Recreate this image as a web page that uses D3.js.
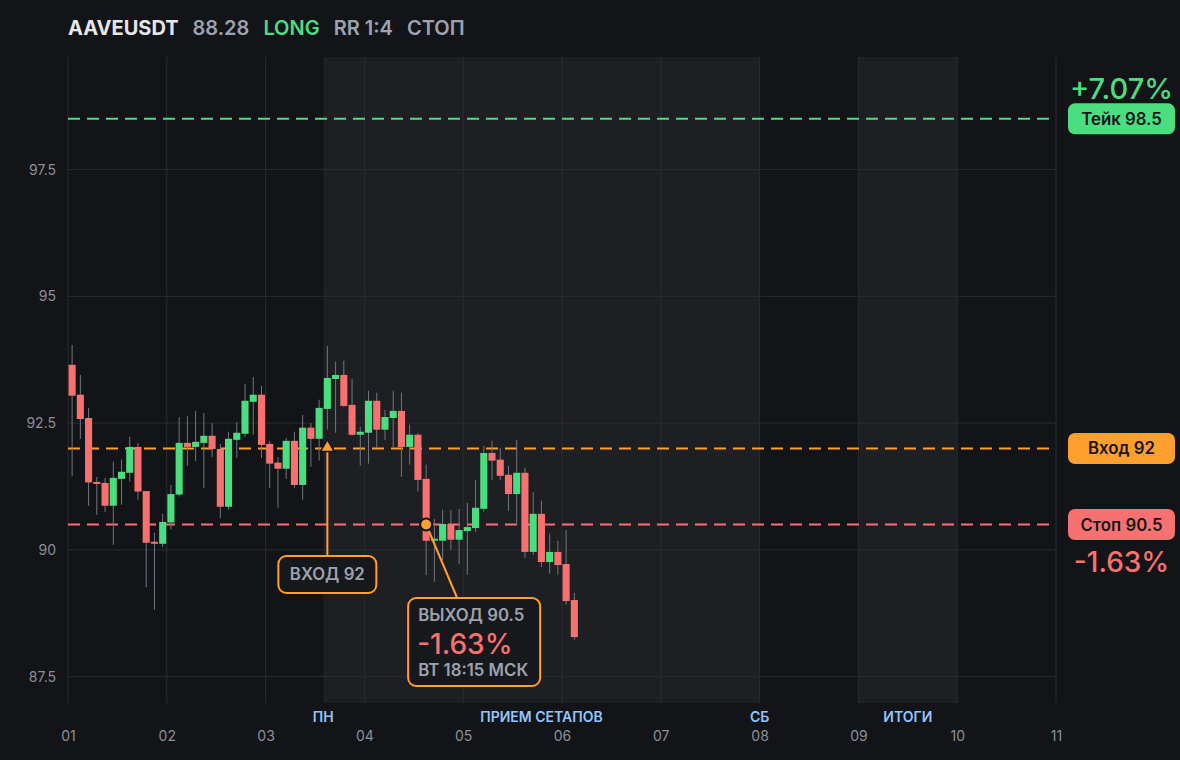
<!DOCTYPE html>
<html>
<head>
<meta charset="utf-8">
<script src="https://cdn.jsdelivr.net/npm/d3@7"></script>
<style>
  body { margin: 0; background: #131418; }
  svg { display: block; font-family: Inter, "Noto Sans", sans-serif; }
</style>
</head>
<body>
<div class="chart"></div>
<script>
// 2h candles, index 0 = day 01 00:00
var opens = [93.65, 93.06, 92.60, 91.34, 91.32, 90.87, 91.40, 91.52, 92.03, 91.16,
  90.16, 90.12, 90.54, 91.09, 92.11, 92.03, 92.11, 92.25, 91.99, 90.85,
  92.17, 92.29, 92.92, 93.06, 92.09, 91.72, 91.60, 92.15, 91.28, 92.41,
  92.19, 92.78, 93.37, 93.45, 92.86, 92.27, 92.31, 92.94, 92.37, 92.60,
  92.74, 92.03, 92.27, 91.40, 90.18, 90.18, 90.51, 90.20, 90.37, 90.43,
  90.81, 91.91, 91.78, 91.48, 91.10, 91.52, 89.96, 90.71, 89.76, 89.96,
  89.72, 89.01];
var closes = [93.04, 92.58, 91.33, 91.30, 90.87, 91.42, 91.54, 92.03, 91.15, 90.14,
  90.12, 90.55, 91.10, 92.11, 92.03, 92.13, 92.25, 91.99, 90.85, 92.19,
  92.31, 92.94, 93.06, 92.07, 91.70, 91.60, 92.15, 91.28, 92.41, 92.19,
  92.80, 93.39, 93.45, 92.84, 92.27, 92.33, 92.94, 92.37, 92.62, 92.74,
  92.03, 92.27, 91.38, 90.18, 90.22, 90.51, 90.20, 90.39, 90.45, 90.83,
  91.91, 91.76, 91.46, 91.10, 91.52, 89.96, 90.71, 89.76, 89.96, 89.70,
  88.99, 88.28];
var highs = [94.04, 93.45, 92.80, 91.44, 91.42, 91.74, 91.78, 92.23, 92.11, 91.16,
  90.34, 90.71, 91.28, 92.62, 92.64, 92.74, 92.70, 92.50, 92.09, 92.33,
  92.52, 93.27, 93.41, 93.23, 92.15, 91.83, 92.21, 92.33, 92.66, 92.50,
  92.96, 94.02, 93.71, 93.73, 93.37, 92.43, 93.14, 93.10, 92.76, 93.14,
  93.10, 92.47, 92.30, 91.68, 90.61, 90.79, 90.79, 90.81, 90.93, 91.38,
  92.05, 92.15, 92.01, 91.66, 92.17, 91.62, 91.14, 90.97, 90.32, 90.18,
  90.39, 89.15];
var lows = [91.45, 92.19, 90.87, 90.69, 90.75, 90.10, 90.89, 91.35, 90.99, 89.26,
  88.82, 90.05, 90.40, 91.05, 91.66, 91.75, 91.22, 91.83, 90.63, 90.79,
  91.81, 92.23, 92.27, 91.81, 91.22, 90.83, 91.40, 91.22, 90.99, 91.64,
  91.76, 92.37, 92.31, 92.82, 92.25, 91.66, 91.70, 92.01, 92.17, 92.03,
  91.44, 91.68, 91.15, 89.50, 89.37, 89.80, 90.00, 89.72, 89.51, 90.35,
  90.75, 91.38, 91.38, 90.77, 90.49, 89.84, 89.90, 89.66, 89.53, 89.51,
  88.92, 88.22];

var candleHours = 2;
var dayTicks = ["01", "02", "03", "04", "05", "06", "07", "08", "09", "10", "11"];
var priceTicks = [87.5, 90, 92.5, 95, 97.5];

// trade levels
var takeLevel = 98.5, entryLevel = 92, stopLevel = 90.5;
var entryCandle = 31, exitCandle = 43;

// background zones in hours from day 01
var zones = [
  { from: 62, to: 168, labels: [["ПН", 62], ["ПРИЕМ СЕТАПОВ", 115], ["СБ", 168]] },
  { from: 192, to: 216, labels: [["ИТОГИ", 204]] }
];

var svgWidth = 1180;
var svgHeight = 760;
var margin = { top: 57, right: 124, bottom: 57, left: 68 };
var width = svgWidth - margin.left - margin.right;
var height = svgHeight - margin.top - margin.bottom;

var green = "#4ade80", red = "#f87171", orange = "#ff9f2e", gray = "#9ca3af";

var svg = d3.select(".chart")
  .append("svg")
  .attr("width", svgWidth)
  .attr("height", svgHeight);

svg.append("rect").attr("width", svgWidth).attr("height", svgHeight).attr("fill", "#131418");

var chartGroup = svg.append("g")
  .attr("transform", `translate(${margin.left}, ${margin.top})`);

var candles = opens.map(function (o, i) {
  return { i: i, open: o, close: closes[i], high: highs[i], low: lows[i] };
});

var xScale = d3.scaleLinear().domain([0, 240]).range([0, width]);
var yScale = d3.scaleLinear().domain([86.98, 99.72]).range([height, 0]);
var candleW = (xScale(candleHours) - xScale(0)) * 0.86;
var cx = d => xScale(d.i * candleHours + candleHours / 2);

// zones
zones.forEach(function (z) {
  chartGroup.append("rect")
    .attr("x", xScale(z.from))
    .attr("y", 0)
    .attr("width", xScale(z.to) - xScale(z.from))
    .attr("height", height)
    .attr("fill", "#1e1f23");
  z.labels.forEach(function (l) {
    chartGroup.append("text")
      .attr("x", xScale(l[1]))
      .attr("y", height + 19)
      .attr("text-anchor", "middle")
      .attr("fill", "#93c5fd")
      .attr("font-size", "14px")
      .attr("font-weight", 600)
      .text(l[0]);
  });
});

// grid
chartGroup.append("g")
  .selectAll("line.vgrid")
  .data(dayTicks)
  .enter()
  .append("line")
  .attr("x1", (d, i) => xScale(i * 24))
  .attr("x2", (d, i) => xScale(i * 24))
  .attr("y1", 0)
  .attr("y2", height)
  .attr("stroke", "#2a2b30")
  .attr("stroke-width", 1);

chartGroup.append("g")
  .selectAll("line.hgrid")
  .data(priceTicks)
  .enter()
  .append("line")
  .attr("x1", 0)
  .attr("x2", width)
  .attr("y1", d => yScale(d))
  .attr("y2", d => yScale(d))
  .attr("stroke", "#2a2b30")
  .attr("stroke-width", 1);

// axes
var bottomAxis = d3.axisBottom(xScale)
  .tickValues(dayTicks.map((d, i) => i * 24))
  .tickFormat((d, i) => dayTicks[i])
  .tickSize(0)
  .tickPadding(28);
var leftAxis = d3.axisLeft(yScale)
  .tickValues(priceTicks)
  .tickFormat(d3.format("~g"))
  .tickSize(0)
  .tickPadding(12);

var xAxisG = chartGroup.append("g")
  .attr("transform", `translate(0, ${height})`)
  .call(bottomAxis);
var yAxisG = chartGroup.append("g").call(leftAxis);
[xAxisG, yAxisG].forEach(function (g) {
  g.select(".domain").remove();
  g.selectAll("text")
    .attr("fill", "#8b8f98")
    .attr("font-size", "14px")
    .attr("font-family", "Inter, sans-serif");
});

// level lines
[[takeLevel, green], [entryLevel, orange], [stopLevel, red]].forEach(function (l) {
  chartGroup.append("line")
    .attr("x1", 0)
    .attr("x2", width)
    .attr("y1", yScale(l[0]))
    .attr("y2", yScale(l[0]))
    .attr("stroke", l[1])
    .attr("stroke-width", 2)
    .attr("stroke-dasharray", "12,7");
});

// candles
var candleG = chartGroup.append("g").selectAll("g").data(candles).enter().append("g");

candleG.append("line")
  .attr("x1", cx)
  .attr("x2", cx)
  .attr("y1", d => yScale(d.high))
  .attr("y2", d => yScale(d.low))
  .attr("stroke", "#72767f")
  .attr("stroke-width", 1);

candleG.append("rect")
  .attr("x", d => cx(d) - candleW / 2)
  .attr("y", d => yScale(Math.max(d.open, d.close)))
  .attr("width", candleW)
  .attr("height", d => Math.max(2, Math.abs(yScale(d.open) - yScale(d.close))))
  .attr("fill", d => d.close >= d.open ? green : red);

// entry marker + callout
var ex = cx(candles[entryCandle]), ey = yScale(entryLevel);
chartGroup.append("line")
  .attr("x1", ex).attr("x2", ex)
  .attr("y1", ey).attr("y2", 499)
  .attr("stroke", orange).attr("stroke-width", 2);
chartGroup.append("path")
  .attr("d", d3.symbol().type(d3.symbolTriangle).size(80)())
  .attr("transform", `translate(${ex}, ${ey - 1})`)
  .attr("fill", orange)
  .attr("stroke", "#131418")
  .attr("stroke-width", 1.5);

chartGroup.append("rect")
  .attr("x", ex - 49).attr("y", 499)
  .attr("width", 98).attr("height", 37)
  .attr("rx", 8)
  .attr("fill", "#17181c")
  .attr("stroke", orange).attr("stroke-width", 2);
chartGroup.append("text")
  .attr("x", ex).attr("y", 523)
  .attr("text-anchor", "middle")
  .attr("fill", gray).attr("font-size", "16.8px").attr("font-weight", 600)
  .text("ВХОД " + entryLevel);

// exit marker + callout
var xx = cx(candles[exitCandle]), xy = yScale(stopLevel);
chartGroup.append("line")
  .attr("x1", xx).attr("x2", xx + 31)
  .attr("y1", xy).attr("y2", 541)
  .attr("stroke", orange).attr("stroke-width", 2);
chartGroup.append("circle")
  .attr("cx", xx).attr("cy", xy).attr("r", 6)
  .attr("fill", orange)
  .attr("stroke", "#131418").attr("stroke-width", 2);

var boxX = xx - 18;
chartGroup.append("rect")
  .attr("x", boxX).attr("y", 541)
  .attr("width", 132).attr("height", 88)
  .attr("rx", 8)
  .attr("fill", "#17181c")
  .attr("stroke", orange).attr("stroke-width", 2);
chartGroup.append("text")
  .attr("x", boxX + 10).attr("y", 564)
  .attr("fill", gray).attr("font-size", "16.8px").attr("font-weight", 600)
  .text("ВЫХОД " + stopLevel);
chartGroup.append("text")
  .attr("x", boxX + 9).attr("y", 597)
  .attr("fill", red).attr("font-size", "28px").attr("font-weight", 500)
  .text("-1.63%");
chartGroup.append("text")
  .attr("x", boxX + 10).attr("y", 619)
  .attr("fill", gray).attr("font-size", "16.8px").attr("font-weight", 600)
  .text("ВТ 18:15 МСК");

// right-side badges
var badgeX = width + 12, badgeW = 107, badgeH = 31;
[["Тейк " + takeLevel, takeLevel, green], ["Вход " + entryLevel, entryLevel, orange], ["Стоп " + stopLevel, stopLevel, red]]
  .forEach(function (b) {
    var by = yScale(b[1]);
    chartGroup.append("rect")
      .attr("x", badgeX).attr("y", by - badgeH / 2)
      .attr("width", badgeW).attr("height", badgeH)
      .attr("rx", 7)
      .attr("fill", b[2]);
    chartGroup.append("text")
      .attr("x", badgeX + badgeW / 2).attr("y", by + 6)
      .attr("text-anchor", "middle")
      .attr("fill", "#15161a").attr("font-size", "16.8px").attr("font-weight", 600)
      .text(b[0]);
  });

chartGroup.append("text")
  .attr("x", badgeX + badgeW / 2).attr("y", yScale(takeLevel) - 20)
  .attr("text-anchor", "middle")
  .attr("fill", green).attr("font-size", "29px").attr("font-weight", 500)
  .text("+7.07%");
chartGroup.append("text")
  .attr("x", badgeX + badgeW / 2).attr("y", yScale(stopLevel) + 47)
  .attr("text-anchor", "middle")
  .attr("fill", red).attr("font-size", "28px").attr("font-weight", 500)
  .text("-1.63%");

// header
var header = svg.append("text")
  .attr("x", 68).attr("y", 35)
  .attr("font-size", "20px").attr("font-weight", 700);
header.append("tspan").attr("fill", "#e5e7eb").text("AAVEUSDT");
header.append("tspan").attr("dx", 14).attr("fill", gray).attr("font-weight", 600).text("88.28");
header.append("tspan").attr("dx", 14).attr("fill", green).attr("font-weight", 600).text("LONG");
header.append("tspan").attr("dx", 14).attr("fill", gray).attr("font-weight", 600).text("RR 1:4");
header.append("tspan").attr("dx", 14).attr("fill", gray).attr("font-weight", 600).text("СТОП");
</script>
</body>
</html>
